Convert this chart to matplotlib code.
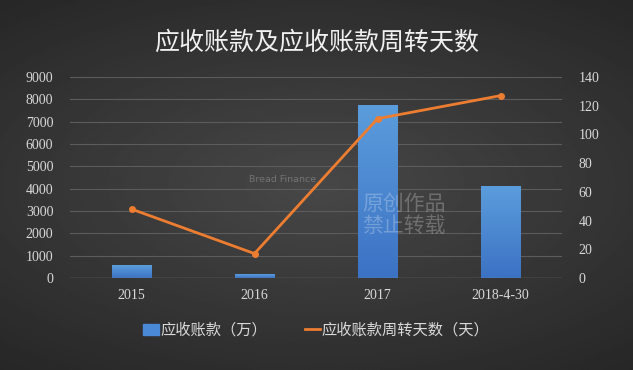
import numpy as np
import matplotlib.pyplot as plt
from matplotlib.lines import Line2D
from matplotlib.patches import Patch
from matplotlib.colors import LinearSegmentedColormap

plt.rcParams['font.family'] = ['Noto Sans CJK SC', 'DejaVu Sans']

categories = ['2015', '2016', '2017', '2018-4-30']
receivables = [560, 160, 7750, 4100]       # 应收账款（万）
turnover_days = [48, 17, 111, 127]         # 应收账款周转天数（天）

fig = plt.figure(figsize=(6.33, 3.70), dpi=100)

# dark radial background
bg = fig.add_axes([0, 0, 1, 1], zorder=-10)
yy, xx = np.mgrid[-1:1:200j, -1:1:340j]
r = np.sqrt((xx * 0.9) ** 2 + (yy * 1.1) ** 2)
bg.imshow(0.28 - 0.09 * r, cmap='gray', vmin=0, vmax=1, aspect='auto', extent=[0, 1, 0, 1])
bg.axis('off')

ax = fig.add_axes([70 / 633, 1 - 278 / 370, 492 / 633, 201 / 370])
ax.set_facecolor('none')
x = np.arange(len(categories))
bars = ax.bar(x, receivables, width=0.32, color='#4a89d6', zorder=3)

# vertical blue gradient inside each bar
grad = LinearSegmentedColormap.from_list('bar', ['#3c72c4', '#5b9ddc'])
for b in bars:
    im = ax.imshow(np.linspace(0, 1, 100).reshape(-1, 1), cmap=grad, origin='lower',
                   aspect='auto', zorder=3.5,
                   extent=[b.get_x(), b.get_x() + b.get_width(), 0, b.get_height()])
    im.set_clip_path(b)
ax.set_xlim(-0.5, len(categories) - 0.5)
ax.set_ylim(0, 9000)
ax.set_aspect('auto')

ax.set_yticks(range(0, 9001, 1000))
ax.grid(axis='y', color='#5c5c5c', linewidth=0.8, zorder=0)
for s in ax.spines.values():
    s.set_visible(False)
ax.axhline(0, color='#8a8a8a', linewidth=0.9, zorder=4)
ax.set_xticks(x)
ax.set_xticklabels(categories)
ax.tick_params(length=0, colors='#d9d9d9', labelsize=10, pad=8)
for lab in ax.get_xticklabels() + ax.get_yticklabels():
    lab.set_family('Liberation Serif')
ax.tick_params(axis='y', pad=12)

ax2 = ax.twinx()
ax2.plot(x, turnover_days, color='#ed7d31', linewidth=2, marker='o', markersize=4, zorder=5)
ax2.set_ylim(0, 140)
ax2.set_yticks(range(0, 141, 20))
for s in ax2.spines.values():
    s.set_visible(False)
ax2.tick_params(length=0, colors='#d9d9d9', labelsize=10, pad=12)
for lab in ax2.get_yticklabels():
    lab.set_family('Liberation Serif')

# watermark
fig.text(362 / 633, 1 - 215 / 370, '原创作品\n禁止转载', color='white', alpha=0.25,
         fontsize=15, ha='left', va='center', linespacing=1.0)
fig.text(249 / 633, 1 - 180 / 370, 'Bread Finance', color='white', alpha=0.25,
         fontsize=6.8, va='center', family='DejaVu Sans')

fig.text(0.5, 1 - 43 / 370, '应收账款及应收账款周转天数', color='#f0f0f0',
         fontsize=18, ha='center', va='center')

handles = [Patch(color='#4a89d6'),
           Line2D([0], [0], color='#ed7d31', linewidth=2)]
fig.legend(handles, ['应收账款（万）', '应收账款周转天数（天）'], loc='center',
           bbox_to_anchor=(0.5, 1 - 330 / 370), ncol=2, frameon=False,
           labelcolor='#d9d9d9', fontsize=11, handlelength=1.0, handletextpad=0.1,
           columnspacing=2.5)

fig.savefig('out.png', dpi=100)
